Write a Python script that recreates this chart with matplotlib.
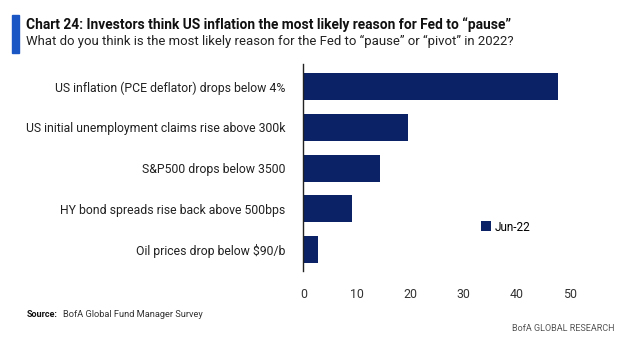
import matplotlib
matplotlib.use("Agg")
import matplotlib.pyplot as plt
from matplotlib.patches import Rectangle

categories = [
    "US inflation (PCE deflator) drops below 4%",
    "US initial unemployment claims rise above 300k",
    "S&P500 drops below 3500",
    "HY bond spreads rise back above 500bps",
    "Oil prices drop below $90/b",
]
values = [47.8, 19.6, 14.4, 9.1, 2.7]
series_name = "Jun-22"
xticks = [0, 10, 20, 30, 40, 50]

navy = "#0b2266"
fam = ["Roboto", "DejaVu Sans"]
plt.rcParams['font.family'] = fam

fig = plt.figure(figsize=(6.21, 3.46), dpi=100)
W, H = 621, 346
ax = fig.add_axes([303.3 / W, 1 - 271 / H, (570 - 303.3) / W, (271 - 64) / H])

ypos = list(range(len(categories)))
ax.barh(ypos, values, height=0.66, color=navy, label=series_name)
ax.set_ylim(len(categories) - 0.5 + 0.02, -0.5 - 0.05)
ax.set_xlim(0, 50)
ax.set_xticks(xticks)
ax.set_xticklabels([str(t) for t in xticks], fontsize=10.5, color="#333333")
ax.set_yticks(ypos)
ax.set_yticklabels(categories, fontsize=10, color="#222222")
for s in ["top", "right", "bottom"]:
    ax.spines[s].set_visible(False)
ax.spines["left"].set_color("#222222")
ax.spines["left"].set_linewidth(1.0)
ax.tick_params(axis="both", length=0)
ax.tick_params(axis="y", pad=13)
ax.tick_params(axis="x", pad=12)

leg = ax.legend(loc="center left", bbox_to_anchor=((480.5 - 303.3) / (570 - 303.3), 1 - (227 - 64) / (271 - 64)),
                frameon=False, fontsize=10, handlelength=0.75, handleheight=0.75,
                handletextpad=0.25, borderaxespad=0, borderpad=0)

fig.patches.append(Rectangle((12 / W, 1 - 52.7 / H), 6.5 / W, 38 / H, transform=fig.transFigure,
                             color="#1a56c4", zorder=5))
t1 = fig.text(26.5 / W, 1 - 29 / H, "Chart 24: Investors think US inflation the most likely reason for Fed to \u201cpause\u201d",
              fontsize=11, fontweight="bold", va="baseline", ha="left", color="#111111")
t2 = fig.text(26.5 / W, 1 - 44.5 / H, "What do you think is the most likely reason for the Fed to \u201cpause\u201d or \u201cpivot\u201d in 2022?",
              fontsize=11, va="baseline", ha="left", color="#222222")
s1 = fig.text(27 / W, 1 - 317 / H, "Source:", fontsize=8, fontweight="bold", va="baseline", ha="left", color="#111111")
s2 = fig.text(63 / W, 1 - 317 / H, "BofA Global Fund Manager Survey", fontsize=8, va="baseline", ha="left", color="#333333")
s3 = fig.text(615 / W, 1 - 331 / H, "BofA GLOBAL RESEARCH", fontsize=8, va="baseline", ha="right", color="#555555")

fig.canvas.draw()
r = fig.canvas.get_renderer()

def fit(t, width):
    w = t.get_window_extent(r).width
    t.set_fontsize(t.get_fontsize() * width / w)

fit(t1, 510 - 26.5)
fit(t2, 512 - 26.5)
fit(s1, 58 - 27)
fit(s2, 204 - 63)
fit(s3, 615 - 513)
fit(leg.get_texts()[0], 527 - 491)

lab = ax.get_yticklabels()[1]
w = lab.get_window_extent(r).width
ysz = 10 * 260 / w
for l in ax.get_yticklabels():
    l.set_fontsize(ysz)
xl = ax.get_xticklabels()[3]
w = xl.get_window_extent(r).width
xsz = 10.5 * 14 / w
for l in ax.get_xticklabels():
    l.set_fontsize(xsz)

fig.savefig("out.png", dpi=100)
